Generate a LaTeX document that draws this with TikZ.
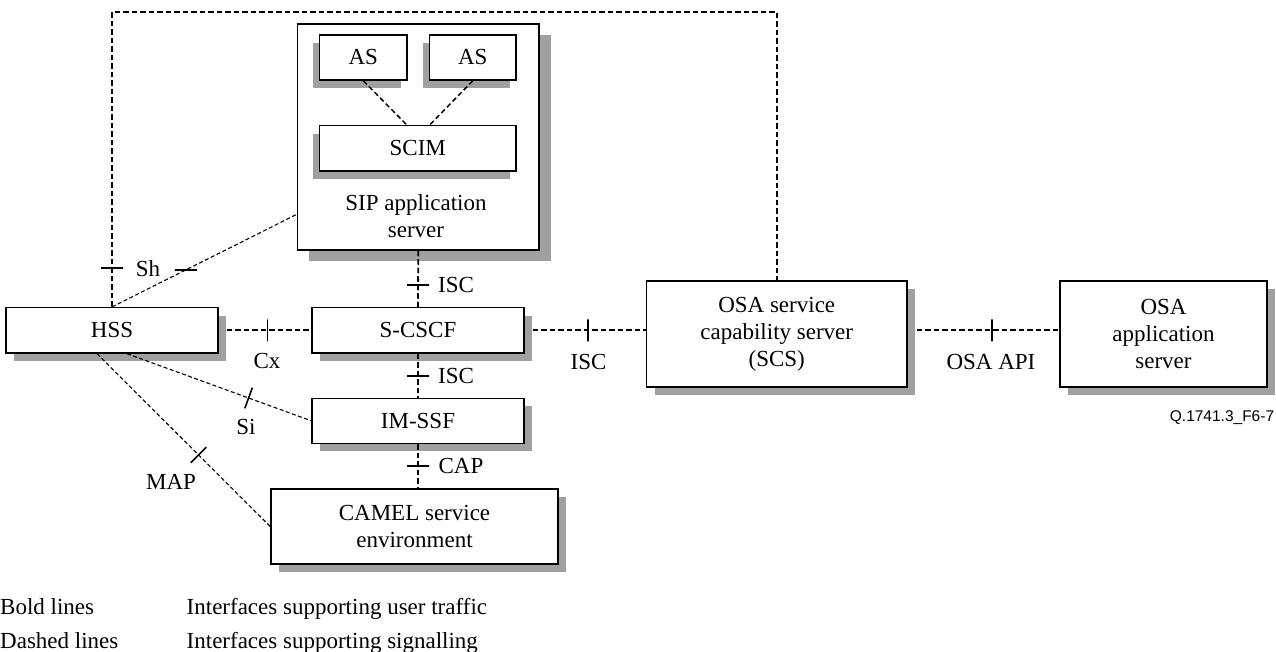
\documentclass[tikz,border=0pt]{standalone}
\usepackage{fontspec}
\setmainfont{Liberation Serif}
\newfontfamily\qfont{Liberation Sans}
\usetikzlibrary{shadows,calc}
\definecolor{shadowgray}{RGB}{160,160,160}
\tikzset{
  plainbox/.style={draw, line width=1.5pt, fill=white, inner sep=0pt, align=center},
  box/.style={plainbox, drop shadow={shadow xshift=#1, shadow yshift=-#1, fill=shadowgray, opacity=1}},
  box/.default=8pt,
  inbox/.style={plainbox, drop shadow={shadow xshift=-6.5pt, shadow yshift=-8pt, fill=shadowgray, opacity=1}},
  sig/.style={line width=1.8pt, dash pattern=on 5.5pt off 3pt},
  sigmid/.style={line width=1.5pt, dash pattern=on 5pt off 3pt},
  sigthin/.style={line width=1.1pt, dash pattern=on 4pt off 2.5pt},
  tick/.style={draw, solid, line width=1.6pt, inner sep=0pt, minimum width=0pt, minimum height=22pt, sloped},
  htick/.style={draw, solid, line width=1.6pt, inner sep=0pt, minimum width=22pt, minimum height=0pt},
  lbl/.style={inner sep=0pt, align=center}
}
\begin{document}
\begin{tikzpicture}[x=1pt, y=-1pt, font=\fontsize{23pt}{27pt}\selectfont]
  \useasboundingbox (0,0) rectangle (1276,652);
  \coordinate (looptop) at (0,12);
  % SIP application server with its parts
  \node[box=11.5pt, minimum width=241.5pt, minimum height=226pt] (sip) at (418.25,137) {};
  \node[lbl] (siptext) at (416,216) {SIP application\\server};
  \node[inbox, minimum width=87.5pt, minimum height=45pt] (as1) at (363.25,57.5) {AS};
  \node[inbox, minimum width=86.4pt, minimum height=45pt] (as2) at (472.8,57.5) {AS};
  \node[inbox, minimum width=196.5pt, minimum height=45.3pt] (scim) at (417.75,148.3) {SCIM};
  % network boxes
  \node[box, minimum width=212pt, minimum height=45.3pt] (hss) at (112,330.3) {HSS};
  \node[box, minimum width=212pt, minimum height=45.3pt] (scscf) at (418,330.3) {S-CSCF};
  \node[box, minimum width=212pt, minimum height=45pt] (imssf) at (418,420.8) {IM-SSF};
  \node[box, minimum width=287pt, minimum height=75pt] (camel) at (414.5,526.5) {CAMEL service\\environment};
  \node[box, minimum width=260.5pt, minimum height=105.7pt] (scs) at (776.75,333.9) {OSA service\\capability server\\(SCS)};
  \node[box, minimum width=207pt, minimum height=106pt] (osaas) at (1163.5,334) {OSA\\application\\server};
  % interfaces
  \draw[sig] (hss.north) -- node[pos=.131, tick]{} (hss.north |- looptop) -- (scs.north |- looptop) -- (scs.north);
  \draw[sigthin] (hss.north) -- node[pos=.40, htick]{} ($(sip.south west)!.16!(sip.north west)$);
  \draw[sig] (sip.south) -- node[pos=.61, tick]{} (scscf.north);
  \draw[sig] ($(hss.east)+(8,0)$) -- node[pos=.48, tick]{} (scscf.west);
  \draw[sig] ($(scscf.east)+(8,0)$) -- node[pos=.49, tick]{} (scscf.east -| scs.west);
  \draw[sig] ($(scscf.east -| scs.east)+(9,0)$) -- node[pos=.53, tick]{} (scscf.east -| osaas.west);
  \draw[sig] (scscf.south) -- node[pos=.51, tick]{} (imssf.north);
  \draw[sig] (imssf.south) -- node[pos=.49, tick]{} (imssf.south |- camel.north);
  \draw[sigthin] ($(hss.south)+(15,0)$) -- node[pos=.66, tick]{} (imssf.west);
  \draw[sigthin] ($(hss.south)+(-15,0)$) -- node[pos=.586, tick]{} (camel.west);
  \draw[sigmid] (as1.south) -- ($(scim.north)+(-11,0)$);
  \draw[sigmid] (as2.south) -- ($(scim.north)+(12,0)$);
  % interface names
  \node[lbl] (lsh) at (148,269) {Sh};
  \node[lbl] (lisctop) at (456,285) {ISC};
  \node[lbl] (lcx) at (267,361) {Cx};
  \node[lbl] (liscscs) at (588.5,361.5) {ISC};
  \node[lbl] (liscssf) at (456,376) {ISC};
  \node[lbl] (lsi) at (246,427) {Si};
  \node[lbl] (lmap) at (171,482) {MAP};
  \node[lbl] (lcap) at (461,466) {CAP};
  \node[lbl] (lapi) at (991,362) {OSA API};
  \node[lbl, font=\qfont\fontsize{15.5pt}{18pt}\selectfont] (figid) at (1222,418) {Q.1741.3\_F6-7};
  % legend
  \node[lbl, anchor=base west] (lgbold) at (0,614) {Bold lines};
  \node[lbl, anchor=base west] (lgdash) at (0,648) {Dashed lines};
  \node[lbl, anchor=base west] (lgtraffic) at (186.5,614) {Interfaces supporting user traffic};
  \node[lbl, anchor=base west] (lgsignal) at (186.5,648) {Interfaces supporting signalling};
\end{tikzpicture}
\end{document}
